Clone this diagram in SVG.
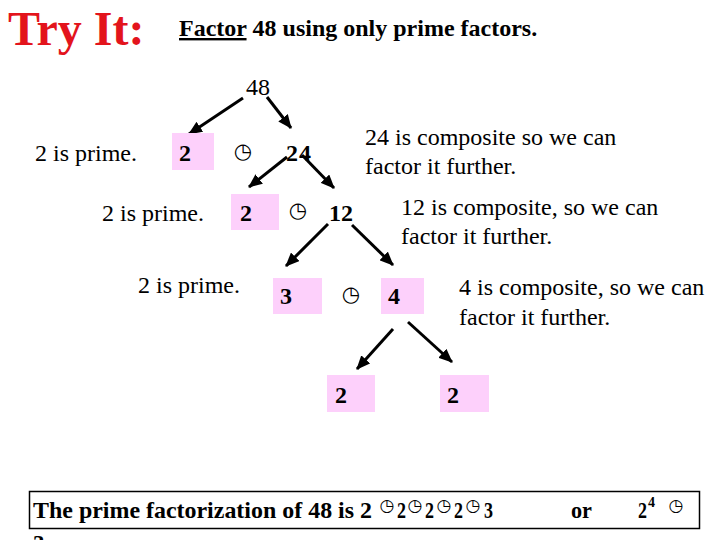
<svg xmlns="http://www.w3.org/2000/svg" width="720" height="540" viewBox="0 0 720 540">
<style>
.t{font-family:"Liberation Serif","Times New Roman",serif;fill:#000}
.r{font-size:24px}
.b{font-size:24px;font-weight:bold}
.f{font-size:23px;font-weight:bold}
.box{fill:#fdd0fb}
.clk{font-family:"DejaVu Sans",sans-serif;font-size:21px;text-anchor:middle;fill:#000}
.clkb{font-family:"DejaVu Sans",sans-serif;font-size:17px;font-weight:bold;text-anchor:middle;fill:#000}
.con line{stroke:#000;stroke-width:3;marker-end:url(#ah)}
</style>
<defs>
<marker id="ah" markerUnits="userSpaceOnUse" markerWidth="14" markerHeight="12" refX="13" refY="6" orient="auto">
<path d="M0,0 L14,6 L0,12 z" fill="#000"/>
</marker>
</defs>
<rect width="720" height="540" fill="#fff"/>
<g id="title">
<text x="8" y="45" class="t" style="font-size:48px;font-weight:bold;fill:#e3141c">Try It:</text>
<text x="179" y="36" class="t b"><tspan text-decoration="underline">Factor</tspan> 48 using only prime factors.</text>
</g>
<g class="con" id="connectors">
<line x1="243" y1="98" x2="189" y2="134"/>
<line x1="267" y1="97" x2="291" y2="128"/>
<line x1="287" y1="157" x2="249" y2="187"/>
<line x1="302" y1="155" x2="334" y2="188"/>
<line x1="328" y1="224" x2="286" y2="266"/>
<line x1="352" y1="225" x2="393" y2="265"/>
<line x1="393" y1="329" x2="357" y2="369"/>
<line x1="408" y1="322" x2="452" y2="362"/>
</g>
<g id="n48"><text x="246" y="95" class="t r">48</text></g>
<g id="n2a"><rect x="172" y="133" width="42" height="37" class="box"/><text x="179" y="161" class="t b">2</text></g>
<g id="c1"><text x="243" y="158" class="clk">◷</text></g>
<g id="n24"><text x="286" y="161" class="t b" letter-spacing="1">24</text></g>
<g id="n2b"><rect x="231" y="194" width="48" height="36" class="box"/><text x="240" y="221" class="t b">2</text></g>
<g id="c2"><text x="298" y="217" class="clk">◷</text></g>
<g id="n12"><text x="329" y="221" class="t b">12</text></g>
<g id="n3"><rect x="273" y="278" width="49" height="36" class="box"/><text x="280" y="304" class="t b">3</text></g>
<g id="c3"><text x="351" y="301" class="clk">◷</text></g>
<g id="n4"><rect x="381" y="278" width="43" height="36" class="box"/><text x="388" y="304" class="t b">4</text></g>
<g id="n2c"><rect x="327" y="375" width="48" height="37" class="box"/><text x="335" y="403" class="t b">2</text></g>
<g id="n2d"><rect x="440" y="375" width="49" height="37" class="box"/><text x="447" y="403" class="t b">2</text></g>
<g id="labels">
<text x="35" y="161" class="t r">2 is prime.</text>
<text x="102" y="221" class="t r">2 is prime.</text>
<text x="138" y="293" class="t r">2 is prime.</text>
<text x="365" y="145" class="t r">24 is composite so we can</text>
<text x="365" y="174" class="t r">factor it further.</text>
<text x="401" y="215" class="t r">12 is composite, so we can</text>
<text x="401" y="244" class="t r">factor it further.</text>
<text x="459" y="295" class="t r">4 is composite, so we can</text>
<text x="459" y="325" class="t r">factor it further.</text>
</g>
<g id="result">
<rect x="29.5" y="491.5" width="670" height="37" fill="none" stroke="#000" stroke-width="1.5"/>
<text x="33" y="518" class="t f" textLength="339" lengthAdjust="spacingAndGlyphs">The prime factorization of 48 is 2</text>
<text x="387" y="511" class="clkb">◷</text>
<text x="397" y="518" class="t f" textLength="9" lengthAdjust="spacingAndGlyphs">2</text>
<text x="415" y="511" class="clkb">◷</text>
<text x="425" y="518" class="t f" textLength="9" lengthAdjust="spacingAndGlyphs">2</text>
<text x="444" y="511" class="clkb">◷</text>
<text x="454" y="518" class="t f" textLength="9" lengthAdjust="spacingAndGlyphs">2</text>
<text x="473" y="511" class="clkb">◷</text>
<text x="484" y="518" class="t f" textLength="9" lengthAdjust="spacingAndGlyphs">3</text>
<text x="571" y="518" class="t f" textLength="21" lengthAdjust="spacingAndGlyphs">or</text>
<text x="638" y="518" class="t f" textLength="9" lengthAdjust="spacingAndGlyphs">2</text>
<text x="648" y="507" class="t" style="font-size:14px;font-weight:bold">4</text>
<text x="676" y="511" class="clkb">◷</text>
<text x="33" y="551" class="t f">3</text>
</g>
</svg>
